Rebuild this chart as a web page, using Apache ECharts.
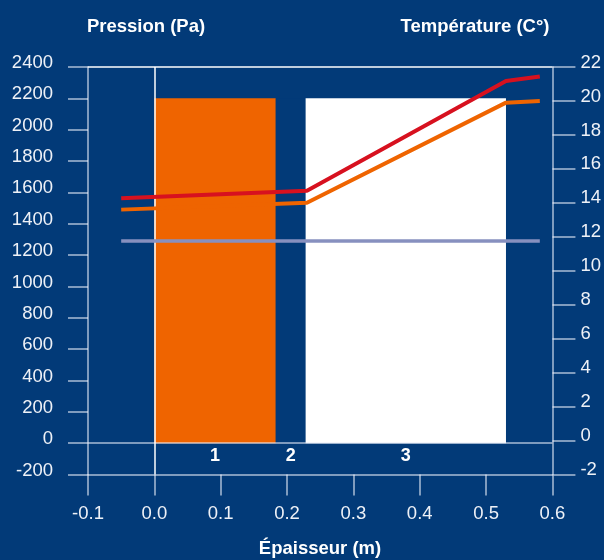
<!DOCTYPE html>
<html><head><meta charset="utf-8">
<script src="https://cdn.jsdelivr.net/npm/echarts@6/dist/echarts.min.js"></script>
<style>html,body{margin:0;padding:0;background:#023a78}#c{width:604px;height:560px}</style>
</head><body><div id="c"></div>
<script>
// ---- data ----
const layerNames = ['1', '2', '3'];
const layerStart = [0.0, 0.183, 0.228];
const layerEnd = [0.183, 0.228, 0.53];
const layerTop = [2200, 2200, 2200];

const satX = [-0.05, 0.23, 0.53, 0.581];
const satPressure = [1563, 1610, 2311, 2340];

const tempX = [-0.05, 0.23, 0.53, 0.581];
const temperature = [13.6, 14.0, 19.9, 20.0];

const vapX = [-0.05, 0.581];
const vapPressure = [1290, 1290];

const pressureTicks = { min: -200, max: 2400, interval: 200 };
const tempTicks = { min: -2, max: 22, interval: 2 };
const thickTicks = { min: -0.1, max: 0.6, interval: 0.1 };

// ---- styles ----
const BG = '#023a78';
const ORANGE = '#ef6400';
const RED = '#d7111f';
const GRAY = '#8790bf';
const LINE = 'rgba(235,240,250,0.72)';
const FONT = '"Liberation Sans", Arial, sans-serif';
const layerColors = [ORANGE, BG, '#ffffff'];

const chart = echarts.init(document.getElementById('c'));
const layerData = layerNames.map((n, i) => [layerStart[i], layerEnd[i], layerTop[i], i]);

chart.setOption({
  backgroundColor: BG,
  animation: false,
  grid: { left: 88, right: 50, top: 67, bottom: 85.5, containLabel: false },
  xAxis: {
    type: 'value', min: thickTicks.min, max: thickTicks.max, interval: thickTicks.interval,
    axisLine: { show: true, onZero: false, lineStyle: { color: LINE, width: 1.5 } },
    axisTick: { show: true, inside: false, length: 21, lineStyle: { color: LINE, width: 1.5 } },
    splitLine: { show: false },
    axisLabel: { color: '#eef1f7', fontSize: 18.5, fontFamily: FONT, margin: 39, verticalAlign: 'middle',
      formatter: v => v.toFixed(1) }
  },
  yAxis: [{
    type: 'value', position: 'left', min: pressureTicks.min, max: pressureTicks.max, interval: pressureTicks.interval,
    axisLine: { show: true, onZero: false, lineStyle: { color: LINE, width: 1.5 } },
    axisTick: { show: true, inside: false, length: 20, lineStyle: { color: LINE, width: 1.5 } },
    splitLine: { show: false },
    axisLabel: { color: '#eef1f7', fontSize: 18.5, fontFamily: FONT, margin: 35,
      verticalAlign: 'bottom', lineHeight: 8, formatter: v => String(Math.round(v)) }
  }, {
    type: 'value', position: 'right', min: tempTicks.min, max: tempTicks.max, interval: tempTicks.interval,
    axisLine: { show: true, onZero: false, lineStyle: { color: LINE, width: 1.5 } },
    axisTick: { show: true, inside: false, length: 23, lineStyle: { color: LINE, width: 1.5 } },
    splitLine: { show: false },
    axisLabel: { color: '#eef1f7', fontSize: 18.5, fontFamily: FONT, margin: 28,
      verticalAlign: 'bottom', lineHeight: 9, formatter: v => String(Math.round(v)) }
  }],
  graphic: [
    { type: 'text', x: 146, y: 27, style: { text: 'Pression (Pa)', fill: '#ffffff', font: 'bold 18.5px ' + FONT, textAlign: 'center', textVerticalAlign: 'middle' } },
    { type: 'text', x: 475, y: 27, style: { text: 'Température (C°)', fill: '#ffffff', font: 'bold 18.5px ' + FONT, textAlign: 'center', textVerticalAlign: 'middle' } },
    { type: 'text', x: 320, y: 549, style: { text: 'Épaisseur (m)', fill: '#ffffff', font: 'bold 18.5px ' + FONT, textAlign: 'center', textVerticalAlign: 'middle' } }
  ],
  series: [{
    type: 'custom', xAxisIndex: 0, yAxisIndex: 0, z: 1, silent: true,
    data: layerData,
    encode: { x: [0, 1], y: 2 },
    renderItem: (params, api) => {
      const x0 = api.value(0), x1 = api.value(1), top = api.value(2), idx = api.value(3);
      const p0 = api.coord([x0, top]);
      const p1 = api.coord([x1, 0]);
      const pl = api.coord([(x0 + x1) / 2, -85]);
      return {
        type: 'group',
        children: [
          { type: 'rect', shape: { x: p0[0], y: p0[1], width: p1[0] - p0[0], height: p1[1] - p0[1] }, style: { fill: layerColors[idx] } },
          { type: 'text', x: pl[0], y: pl[1], style: { text: layerNames[idx], fill: '#ffffff', font: 'bold 18px ' + FONT, textAlign: 'center', textVerticalAlign: 'middle' } }
        ]
      };
    }
  }, {
    type: 'line', name: 'vap', xAxisIndex: 0, yAxisIndex: 0, z: 3, symbol: 'none', silent: true,
    data: vapX.map((x, i) => [x, vapPressure[i]]),
    lineStyle: { color: GRAY, width: 3.5 },
    markLine: {
      silent: true, symbol: ['none', 'none'], label: { show: false }, z: 2,
      data: [
        { yAxis: 0, lineStyle: { color: LINE, width: 1.5, type: 'solid' } },
        { yAxis: 2400, lineStyle: { color: '#ffffff', width: 1.5, type: 'solid' } },
        { xAxis: 0, lineStyle: { color: '#ffffff', width: 1.5, type: 'solid' } }
      ]
    }
  }, {
    type: 'line', name: 'temp', xAxisIndex: 0, yAxisIndex: 1, z: 4, symbol: 'none', silent: true,
    data: tempX.map((x, i) => [x, temperature[i]]),
    lineStyle: { color: ORANGE, width: 4 }
  }, {
    type: 'line', name: 'sat', xAxisIndex: 0, yAxisIndex: 0, z: 5, symbol: 'none', silent: true,
    data: satX.map((x, i) => [x, satPressure[i]]),
    lineStyle: { color: RED, width: 4 }
  }]
});
</script>
</body></html>
